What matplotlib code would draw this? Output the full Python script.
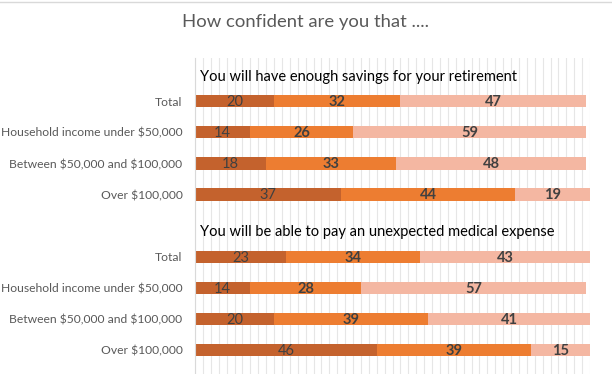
import numpy as np
import matplotlib.pyplot as plt

plt.rcParams['font.family'] = ['Lato', 'DejaVu Sans']
plt.rcParams['text.parse_math'] = False

groups = ["Total", "Household income under $50,000",
          "Between $50,000 and $100,000", "Over $100,000"]
titles = ["You will have enough savings for your retirement",
          "You will be able to pay an unexpected medical expense"]

# very / somewhat / not confident, in percent
retire_very = [20, 14, 18, 37]
retire_some = [32, 26, 33, 44]
retire_not = [47, 59, 48, 19]
medical_very = [23, 14, 20, 46]
medical_some = [34, 28, 39, 39]
medical_not = [43, 57, 41, 15]

colors = ["#C4622D", "#ED7D31", "#F4B7A2"]

fig = plt.figure(figsize=(6.12, 3.74), dpi=100)
ax = fig.add_axes([195 / 612, 0, 395 / 612, 1 - 58 / 374])

labels = []
rows = []
for k, block in enumerate([(retire_very, retire_some, retire_not),
                           (medical_very, medical_some, medical_not)]):
    start = k * 5
    labels.append("")
    for i in range(4):
        labels.append(groups[i])
        rows.append((start + 1 + i, [block[0][i], block[1][i], block[2][i]]))
    ax.text(1.3, start + 0.22, titles[k], fontsize=10.5, color="black",
            va="center", ha="left")

for y, vals in rows:
    left = 0
    for j, v in enumerate(vals):
        ax.barh(y, v, left=left, height=0.39, color=colors[j], zorder=2)
        ax.text(left + v / 2, y + 0.03, str(v), ha="center", va="center",
                fontsize=10.5, color="#404040",
                fontweight="normal" if j == 0 else "bold", zorder=3)
        left += v

ax.set_yticks(range(10))
ax.set_yticklabels(labels, fontsize=8.7, color="#595959")
ax.set_ylim(9.77, -0.39)
ax.set_xlim(0, 100)
ax.set_xticks(np.arange(0, 101, 2))
ax.tick_params(axis="x", length=0, labelbottom=False)
ax.tick_params(axis="y", length=0, pad=9)
ax.grid(axis="x", color="#E6E6E6", linewidth=0.8, zorder=0)
for s in ["top", "right", "bottom"]:
    ax.spines[s].set_visible(False)
ax.spines["left"].set_color("#D9D9D9")

fig.text(0.5, 1 - 22 / 374, "How confident are you that ....", ha="center",
         va="center", fontsize=13.3, color="#595959")
fig.add_artist(plt.Line2D([0, 1], [1 - 2 / 374, 1 - 2 / 374],
                          color="#D9D9D9", linewidth=1))

fig.savefig("out.png", dpi=100)
